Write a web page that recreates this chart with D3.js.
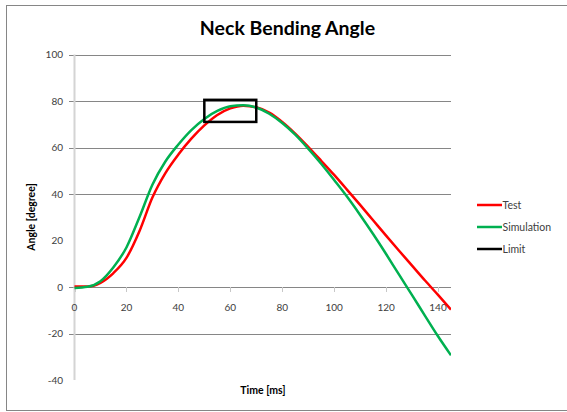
<!DOCTYPE html>
<html><head><meta charset="utf-8">
<script src="https://cdn.jsdelivr.net/npm/d3@7"></script>
<style>body{margin:0;background:#fff}svg{display:block}text{font-family:Lato,"Open Sans",sans-serif}</style>
</head><body><svg id="c" width="567" height="412"></svg>
<script>
const time = [0,5,10,15,20,25,30,35,40,45,50,55,60,65,70,75,80,85,90,95,100,105,110,115,120,125,130,135,140,145];
const test = [0.2,0.2,1.8,6,12.5,24,38.5,49,57,63.8,69.5,74,76.8,78,77.3,75,71,66,60.3,54.3,48.2,41.8,35.3,28.7,22.1,15.6,9.2,2.8,-3.4,-9.7];
const simulation = [-0.4,0.1,2.5,8.5,17,30,44,54,61.3,67.5,72.3,75.7,77.7,78.2,77.2,74.5,70.5,65.5,59.5,53,46,38.8,31,22.8,14.2,5.3,-3.5,-12.4,-21.2,-29.4];
const limitX = [50,70];
const limitY = [71,80.5];
const yTicks = [100,80,60,40,20,0,-20,-40];
const yGrid = [100,80,60,40,0,-20];
const xTicks = [0,20,40,60,80,100,120,140];
const legendNames = ["Test","Simulation","Limit"];
const colors = ["#ff0000","#00b050","#000000"];

const svg = d3.select("#c");
svg.append("rect").attr("x",6.5).attr("y",5.5).attr("width",566).attr("height",405)
  .attr("fill","none").attr("stroke","#868686");

const x = d3.scaleLinear().domain([0,145]).range([74.5,451]);
const y = d3.scaleLinear().domain([-40,100]).range([380,54.5]);

// gridlines
svg.append("g").selectAll("line").data(yGrid).join("line")
  .attr("x1",69).attr("x2",x(145)).attr("y1",d=>Math.round(y(d))+0.5).attr("y2",d=>Math.round(y(d))+0.5)
  .attr("stroke","#868686").attr("stroke-width",1);
// y axis line
svg.append("line").attr("x1",x(0)).attr("x2",x(0)).attr("y1",y(100)).attr("y2",y(-40))
  .attr("stroke","#d4d4d4").attr("stroke-width",2);
// y tick labels
svg.append("g").selectAll("text").data(yTicks).join("text")
  .attr("x",63).attr("y",d=>y(d)+3.5).attr("text-anchor","end")
  .attr("font-size",10).attr("fill","#404040").text(d=>d);
// x ticks along zero line
svg.append("g").selectAll("line").data(xTicks).join("line")
  .attr("x1",d=>Math.round(x(d))+0.5).attr("x2",d=>Math.round(x(d))+0.5)
  .attr("y1",y(0)).attr("y2",y(0)+5).attr("stroke","#c8c8c8");
svg.append("g").selectAll("text").data(xTicks).join("text")
  .attr("x",d=>x(d)).attr("y",y(0)+24).attr("text-anchor","middle")
  .attr("font-size",10).attr("fill","#404040").text(d=>d);

// title and axis titles
svg.append("text").attr("x",287.5).attr("y",35).attr("text-anchor","middle")
  .attr("font-size",19.5).attr("font-weight","bold").attr("fill","#000").text("Neck Bending Angle");
svg.append("text").attr("x",263).attr("y",394).attr("text-anchor","middle")
  .attr("font-size",10.5).attr("font-weight","bold").attr("fill","#000").text("Time [ms]");
svg.append("text").attr("transform","translate(35,217) rotate(-90)").attr("text-anchor","middle")
  .attr("font-size",10.5).attr("font-weight","bold").attr("fill","#000").text("Angle [degree]");

// clip
svg.append("clipPath").attr("id","pc").append("rect")
  .attr("x",x(0)-3).attr("y",y(100)).attr("width",x(145)-x(0)+3).attr("height",y(-40)-y(100));

const line = d3.line().x((d,i)=>x(time[i])).y(d=>y(d)).curve(d3.curveMonotoneX);
const g = svg.append("g").attr("clip-path","url(#pc)");
g.append("path").attr("d",line(test)).attr("fill","none").attr("stroke",colors[0]).attr("stroke-width",2.5);
g.append("path").attr("d",line(simulation)).attr("fill","none").attr("stroke",colors[1]).attr("stroke-width",2.5);
g.append("rect").attr("x",x(limitX[0])).attr("y",y(limitY[1]))
  .attr("width",x(limitX[1])-x(limitX[0])).attr("height",y(limitY[0])-y(limitY[1]))
  .attr("fill","none").attr("stroke",colors[2]).attr("stroke-width",2.5);

// legend
const lg = svg.append("g").selectAll("g").data(legendNames).join("g")
  .attr("transform",(d,i)=>`translate(477,${205+i*22})`);
lg.append("line").attr("x1",0).attr("x2",25).attr("stroke",(d,i)=>colors[i]).attr("stroke-width",2.5);
lg.append("text").attr("x",25.5).attr("y",4).attr("font-size",10.5).attr("fill","#404040").text(d=>d);
</script></body></html>
